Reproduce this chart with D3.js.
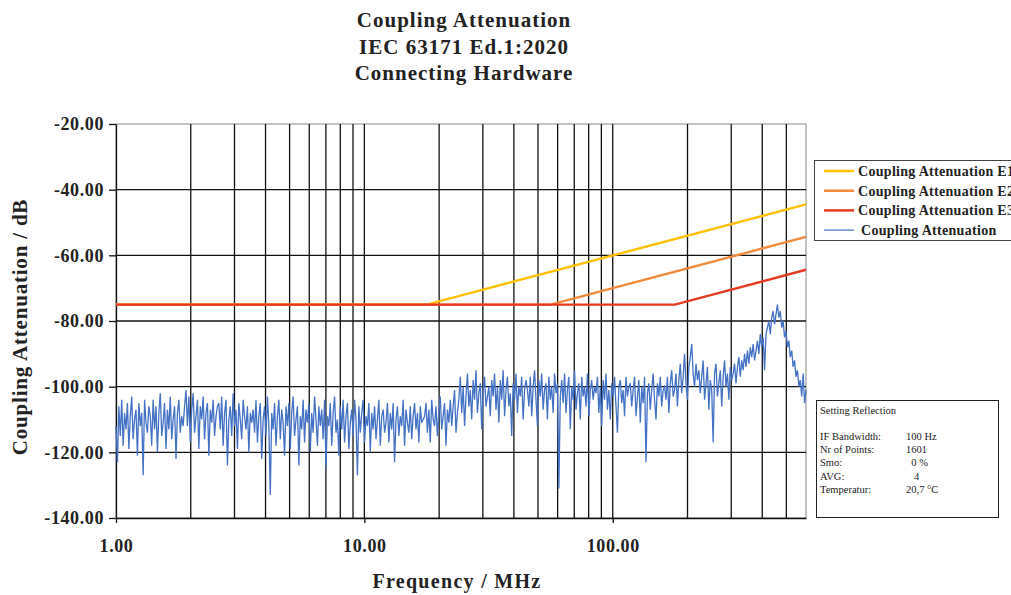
<!DOCTYPE html>
<html>
<head>
<meta charset="utf-8">
<script src="https://cdn.jsdelivr.net/npm/d3@7"></script>
<style>
	body { margin: 0; background: #fff; }
	svg { display: block; font-family: 'Liberation Serif', 'DejaVu Serif', serif; }
</style>
</head>
<body>
<svg id="chart" width="1011" height="595"></svg>
<script>
// Title lines.
const titleLines = ['Coupling Attenuation', 'IEC 63171 Ed.1:2020', 'Connecting Hardware'];

// Axis ticks.
const yTicks = [-140, -120, -100, -80, -60, -40, -20];
const xLabelTicks = [1, 10, 100];
const xGridTicks = [2, 3, 4, 5, 6, 7, 8, 9, 10, 20, 30, 40, 50, 60, 70, 80, 90, 100, 200, 300, 400, 500];

// Limit lines [MHz, dB].
const limitE1 = [[1, -75], [17.8, -75], [600, -44.5]];
const limitE2 = [[1, -75], [56.2, -75], [600, -54.4]];
const limitE3 = [[1, -75], [177.8, -75], [600, -64.4]];

// Measured sweep (log spaced from sweepStart to sweepStop), dB.
const sweepStart = 1;
const sweepStop = 600;
const measured = [
	-112, -123, -106, -115, -104, -118, -108, -113, -105, -119, -109, -103, -116, -110, -107, -121, -105, -112, -108, -127, -104, -111, -114, -106,
	-109, -118, -104, -113, -106, -120, -108, -102, -115, -111, -105, -119, -107, -113, -103, -116, -110, -106, -122, -108, -104, -114, -109, -112,
	-106, -101, -112, -103, -117, -107, -102, -114, -109, -104, -119, -106, -110, -103, -116, -108, -105, -121, -107, -111, -104, -115, -109, -106,
	-105, -113, -103, -118, -108, -104, -124, -110, -106, -115, -102, -112, -107, -119, -105, -110, -116, -104, -109, -113, -106, -120, -108, -111,
	-107, -114, -104, -117, -109, -105, -122, -110, -106, -115, -103, -112, -133, -108, -113, -105, -118, -109, -104, -116, -107, -111, -121, -106,
	-112, -105, -119, -108, -103, -115, -110, -106, -124, -109, -113, -104, -117, -107, -111, -105, -120, -108, -114, -103, -110, -118, -106, -112,
	-107, -116, -104, -125, -109, -112, -105, -118, -108, -103, -114, -110, -121, -106, -113, -104, -117, -109, -105, -119, -111, -107, -115, -104,
	-110, -127, -106, -114, -108, -104, -117, -109, -112, -105, -120, -108, -113, -106, -116, -110, -104, -118, -109, -107, -114, -111, -105, -117,
	-108, -113, -105, -123, -110, -106, -115, -109, -112, -104, -118, -107, -111, -114, -106, -116, -109, -105, -113, -108, -117, -106, -111, -110,
	-109, -105, -114, -107, -117, -104, -110, -112, -106, -115, -108, -103, -113, -109, -105, -118, -107, -111, -104, -112, -106, -101, -114, -108,
	-104, -97, -108, -100, -112, -103, -96, -106, -101, -110, -98, -104, -95, -108, -102, -99, -113, -101, -97, -106, -103, -100, -109, -98,
	-103, -96, -107, -100, -111, -98, -104, -95, -109, -101, -97, -106, -102, -115, -99, -104, -96, -108, -100, -103, -97, -110, -101, -98,
	-101, -106, -97, -109, -100, -95, -104, -112, -98, -103, -96, -107, -101, -99, -110, -97, -104, -100, -108, -96, -102, -99, -131, -103,
	-98, -105, -96, -108, -101, -97, -113, -100, -104, -95, -107, -102, -99, -110, -97, -103, -100, -106, -96, -109, -101, -98, -104, -100,
	-102, -97, -108, -100, -112, -98, -104, -96, -107, -101, -110, -99, -103, -97, -106, -114, -100, -98, -105, -101, -109, -97, -103, -100,
	-99, -106, -101, -97, -109, -103, -98, -111, -100, -105, -97, -123, -102, -99, -107, -101, -96, -104, -110, -99, -103, -97, -106, -101,
	-100, -104, -97, -108, -99, -95, -103, -101, -96, -106, -98, -93, -102, -97, -90, -99, -104, -94, -91, -87, -96, -100, -93, -98,
	-95, -102, -97, -92, -104, -99, -94, -107, -98, -101, -117, -96, -93, -103, -99, -95, -106, -97, -92, -100, -96, -104, -94, -98,
	-96, -93, -99, -94, -91, -97, -92, -95, -90, -94, -89, -93, -88, -91, -87, -92, -89, -86, -90, -84, -88, -85, -95, -84,
	-82, -80, -84, -79, -77, -81, -78, -75, -79, -77, -82, -80, -85, -83, -88, -86, -91, -89, -94, -92, -97, -95, -100, -98, -103, -96, -105, -101
];

// Legend.
const legendLabels = ['Coupling Attenuation E1', 'Coupling Attenuation E2', 'Coupling Attenuation E3', 'Coupling Attenuation'];
const legendColors = ['#FFC000', '#F28A3C', '#E53A20', '#4472C4'];

// Settings box.
const settingsTitle = 'Setting Reflection';
const settingsKeys = ['IF Bandwidth:', 'Nr of Points:', 'Smo:', 'AVG:', 'Temperatur:'];
const settingsValues = ['100 Hz', '1601', '  0 %', '   4', '20,7 °C'];

const svg = d3.select('#chart');

const plot = { left: 116, right: 806, top: 124, bottom: 518 };

const x = d3.scaleLog().domain([sweepStart, sweepStop]).range([plot.left, plot.right]);
const y = d3.scaleLinear().domain([-140, -20]).range([plot.bottom, plot.top]);

// Title.
svg.append('g')
	.selectAll('text')
	.data(titleLines)
	.join('text')
	.attr('x', 464)
	.attr('y', (d, i) => 27 + i * 26.5)
	.attr('text-anchor', 'middle')
	.attr('font-size', '21px')
	.attr('font-weight', 'bold')
	.attr('letter-spacing', '1px')
	.attr('fill', '#222')
	.text(d => d);

// Plot border (grey) and grid lines (black).
svg.append('rect')
	.attr('x', plot.left)
	.attr('y', plot.top)
	.attr('width', plot.right - plot.left)
	.attr('height', plot.bottom - plot.top)
	.attr('fill', 'none')
	.attr('stroke', '#999')
	.attr('stroke-width', 1.2);

const grid = svg.append('g').attr('stroke', '#111').attr('stroke-width', 1.3);

grid.selectAll('line.v')
	.data(xGridTicks)
	.join('line')
	.attr('class', 'v')
	.attr('x1', d => x(d))
	.attr('x2', d => x(d))
	.attr('y1', plot.top)
	.attr('y2', plot.bottom);

grid.selectAll('line.h')
	.data(yTicks.slice(1, -1))
	.join('line')
	.attr('class', 'h')
	.attr('x1', plot.left)
	.attr('x2', plot.right)
	.attr('y1', d => y(d))
	.attr('y2', d => y(d));

// Axes.
const yAxis = svg.append('g')
	.attr('transform', `translate(${plot.left},0)`)
	.call(d3.axisLeft(y).tickValues(yTicks).tickFormat(d => d.toFixed(2)).tickSize(7).tickSizeOuter(0));

const xAxis = svg.append('g')
	.attr('transform', `translate(0,${plot.bottom})`)
	.call(d3.axisBottom(x).tickValues(xLabelTicks).tickFormat(d => d.toFixed(2)).tickSize(5).tickSizeOuter(0));

[yAxis, xAxis].forEach(axis => {
	axis.select('.domain').attr('stroke', '#111').attr('stroke-width', 1.3);
	axis.selectAll('.tick line').attr('stroke', '#111').attr('stroke-width', 1.3);
	axis.selectAll('.tick text')
		.attr('font-family', "'Liberation Serif', serif")
		.attr('font-size', '18px')
		.attr('font-weight', 'bold')
		.attr('letter-spacing', '0.6px')
		.attr('fill', '#222');
});
yAxis.selectAll('.tick text').attr('x', -12);
xAxis.selectAll('.tick text').attr('y', 21);

// Axis titles.
svg.append('text')
	.attr('x', 457)
	.attr('y', 588)
	.attr('text-anchor', 'middle')
	.attr('font-size', '20px')
	.attr('font-weight', 'bold')
	.attr('letter-spacing', '1.3px')
	.attr('fill', '#222')
	.text('Frequency / MHz');

svg.append('text')
	.attr('transform', 'translate(27,327) rotate(-90)')
	.attr('text-anchor', 'middle')
	.attr('font-size', '21px')
	.attr('font-weight', 'bold')
	.attr('letter-spacing', '0.8px')
	.attr('fill', '#222')
	.text('Coupling Attenuation / dB');

// Lines.
const line = d3.line().x(d => x(d[0])).y(d => y(d[1]));

const sweep = measured.map((v, i) => [sweepStart * Math.pow(sweepStop / sweepStart, i / (measured.length - 1)), v]);

svg.append('path')
	.datum(sweep)
	.attr('fill', 'none')
	.attr('stroke', legendColors[3])
	.attr('stroke-width', 1.3)
	.attr('d', line);

// E3 drawn last so the shared flat segment shows red.
[limitE1, limitE2, limitE3].forEach((limit, i) => {
	svg.append('path')
		.datum(limit)
		.attr('fill', 'none')
		.attr('stroke', legendColors[i])
		.attr('stroke-width', 2.4)
		.attr('d', line);
});

// Legend.
const legend = svg.append('g');

legend.append('rect')
	.attr('x', 814.5)
	.attr('y', 160.5)
	.attr('width', 220)
	.attr('height', 80)
	.attr('fill', '#fff')
	.attr('stroke', '#444');

const legendItems = legend.selectAll('g.item')
	.data(legendLabels)
	.join('g')
	.attr('class', 'item')
	.attr('transform', (d, i) => `translate(824,${171 + i * 19.7})`);

legendItems.append('line')
	.attr('x1', 0)
	.attr('x2', 30)
	.attr('stroke', (d, i) => legendColors[i])
	.attr('stroke-width', (d, i) => (i === 3 ? 1.2 : 2.5));

legendItems.append('text')
	.attr('x', (d, i) => (i === 3 ? 37 : 34))
	.attr('dy', '0.35em')
	.attr('font-size', '14px')
	.attr('font-weight', 'bold')
	.attr('letter-spacing', '0.3px')
	.attr('fill', '#222')
	.text(d => d);

// Settings box.
const settings = svg.append('g').attr('font-size', '10.5px').attr('fill', '#222');

settings.append('rect')
	.attr('x', 816.5)
	.attr('y', 400.5)
	.attr('width', 182)
	.attr('height', 117)
	.attr('fill', '#fff')
	.attr('stroke', '#222');

settings.append('text').attr('x', 820).attr('y', 414).text(settingsTitle);

settings.selectAll('text.key')
	.data(settingsKeys)
	.join('text')
	.attr('class', 'key')
	.attr('x', 820)
	.attr('y', (d, i) => 440 + i * 13.2)
	.text(d => d);

settings.selectAll('text.val')
	.data(settingsValues)
	.join('text')
	.attr('class', 'val')
	.attr('x', 906)
	.attr('y', (d, i) => 440 + i * 13.2)
	.style('white-space', 'pre')
	.text(d => d);
</script>
</body>
</html>
